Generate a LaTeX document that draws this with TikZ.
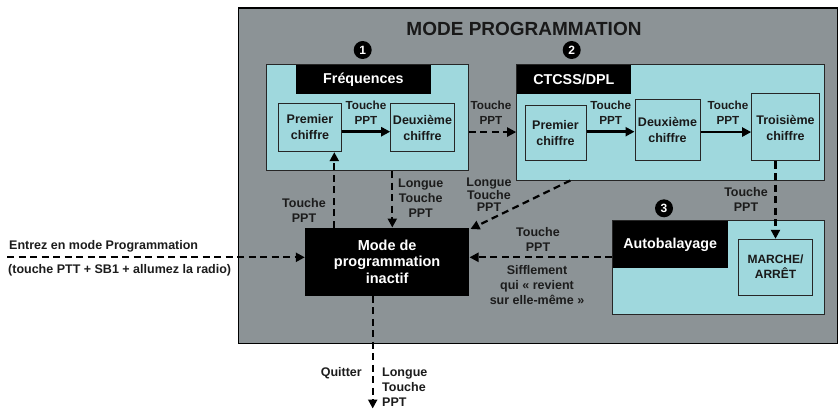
\documentclass[tikz,border=0pt]{standalone}
\usepackage{fontspec}
\setmainfont{Liberation Sans}
\usetikzlibrary{arrows.meta}
\definecolor{framegray}{RGB}{140,147,150}
\definecolor{lightcyan}{RGB}{159,216,221}
\definecolor{labelcol}{RGB}{28,28,28}
\begin{document}
\begin{tikzpicture}[x=1pt,y=-1pt,
  framebox/.style={draw=black, line width=1.3pt, fill=framegray, inner sep=0, anchor=north west},
  group/.style={draw=black!85, line width=1pt, fill=lightcyan, inner sep=0},
  head/.style={fill=black, text=white, inner sep=0, font=\bfseries\fontsize{14.3}{17}\selectfont},
  cell/.style={draw=black!85, line width=1pt, fill=lightcyan, inner sep=0, align=center, text=black!90, font=\bfseries\fontsize{12.5}{16}\selectfont},
  blackbox/.style={fill=black, text=white, inner sep=0, align=center, font=\bfseries\fontsize{14.5}{16.6}\selectfont},
  numc/.style={circle, fill=black, text=white, inner sep=0, minimum size=18pt, font=\bfseries\fontsize{12}{12}\selectfont},
  lab/.style={align=center, inner sep=0, text=labelcol, font=\bfseries\fontsize{12.5}{15}\selectfont},
  smlab/.style={align=center, inner sep=0, text=labelcol, font=\bfseries\fontsize{11.7}{15}\selectfont},
  sarrow/.style={line width=2.4pt, -{Triangle[length=9pt,width=9pt]}},
  darrow/.style={line width=2.2pt, dash pattern=on 7pt off 4.5pt, -{Triangle[length=9pt,width=9pt]}}
]
\useasboundingbox (0,0) rectangle (838,409);

% frame
\node[framebox, minimum width=599.5pt, minimum height=335pt] (frame) at (237.5,7.5) {};
\node[inner sep=0, text=black!90, font=\bfseries\fontsize{19}{20}\selectfont] (title) at (524,29) {MODE PROGRAMMATION};

% numbers
\node[numc] (n1) at (362.7,50) {1};
\node[numc] (n2) at (571.7,50) {2};
\node[numc] (n3) at (664,208.3) {3};

% Frequences group
\node[group, minimum width=201.6pt, minimum height=105.7pt] (freq) at (367.5,117.85) {};
\node[head, minimum width=135.3pt, minimum height=29pt] (freqh) at (363.35,79.5) {Fréquences};
\node[cell, minimum width=63.4pt, minimum height=48.4pt] (p1) at (310,127.5) {Premier\\chiffre};
\node[cell, minimum width=63.6pt, minimum height=48.4pt] (d1) at (422.5,127.5) {Deuxième\\chiffre};

% CTCSS group
\node[group, minimum width=307.3pt, minimum height=115pt] (ctcss) at (670.35,122.5) {};
\node[head, minimum width=114.3pt, minimum height=29pt] (ctcssh) at (573.85,79.5) {CTCSS/DPL};
\node[cell, minimum width=61pt, minimum height=55pt] (p2) at (555.5,133.5) {Premier\\chiffre};
\node[cell, minimum width=65pt, minimum height=61.7pt] (d2) at (667.5,130.15) {Deuxième\\chiffre};
\node[cell, minimum width=67.6pt, minimum height=67pt] (t3) at (785.5,127.5) {Troisième\\chiffre};

% Autobalayage group
\node[group, minimum width=211.3pt, minimum height=93.3pt] (auto) at (718.35,267.35) {};
\node[head, minimum width=115pt, minimum height=47.6pt] (autoh) at (670.2,244.5) {Autobalayage};
\node[cell, minimum width=74.4pt, minimum height=55.7pt, font=\bfseries\fontsize{12}{15}\selectfont] (marche) at (775.5,267.15) {MARCHE/\\ARRÊT};

% inactive mode
\node[blackbox, minimum width=164.3pt, minimum height=68pt] (inactif) at (387.15,261.7) {Mode de\\programmation\\inactif};

% solid arrows
\draw[sarrow] ([yshift=-4.2pt]p1.east) -- ([yshift=-4.2pt]p1.east -| d1.west);
\draw[sarrow] ([yshift=1.8pt]p2.east) -- ([yshift=1.8pt]p2.east -| d2.west);
\draw[sarrow] ([yshift=-1.9pt]d2.east) -- ([yshift=-1.9pt]d2.east -| t3.west);

% dashed arrows
\draw[darrow] ([yshift=-14.2pt]freq.east) -- ([yshift=-14.2pt]freq.east -| ctcss.west);
\coordinate (fa) at ([xshift=24.8pt]freq.south);
\draw[darrow] (fa) -- (fa |- inactif.north);
\coordinate (ub) at ([xshift=24.3pt]p1.south);
\draw[darrow] (ub |- inactif.north) -- (ub);
\draw[darrow] ([xshift=-100pt]ctcss.south) -- ([xshift=1pt,yshift=-1.5pt]inactif.north east);
\draw[darrow] (t3.south -| marche.north) -- (marche.north);
\coordinate (ie) at ([yshift=4.4pt]inactif.east);
\draw[darrow] (ie -| auto.west) -- (ie);
\coordinate (entry) at (7,257.3);
\draw[darrow] (entry) -- (entry -| inactif.west);
\coordinate (exit) at (372.7,408.5);
\draw[darrow] (exit |- inactif.south) -- (exit);

% labels
\node[smlab] (l1) at (366,112.5) {Touche\\PPT};
\node[smlab] (l2) at (491,112.5) {Touche\\PPT};
\node[smlab] (l3) at (610.7,112.5) {Touche\\PPT};
\node[smlab] (l4) at (728,112.5) {Touche\\PPT};
\node[lab] (l5) at (304,210.5) {Touche\\PPT};
\node[lab] (l6) at (420.7,198) {Longue\\Touche\\PPT};
\node[lab, font=\bfseries\fontsize{12.5}{12.5}\selectfont] (l7) at (489,194.7) {Longue\\Touche\\PPT};
\node[lab] (l8) at (746,199.5) {Touche\\PPT};
\node[lab] (l9) at (538,239) {Touche\\PPT};
\node[lab] (l10) at (537,285) {Sifflement\\qui « revient\\sur elle-même »};
\node[lab, anchor=base west] (l11) at (9,249.5) {Entrez en mode Programmation};
\node[lab, anchor=base west] (l12) at (8,273) {(touche PTT + SB1 + allumez la radio)};
\node[lab, anchor=base east] (l13) at (362,376.5) {Quitter};
\node[lab, align=left, anchor=west] (l14) at (382,387) {Longue\\Touche\\PPT};
\end{tikzpicture}
\end{document}
